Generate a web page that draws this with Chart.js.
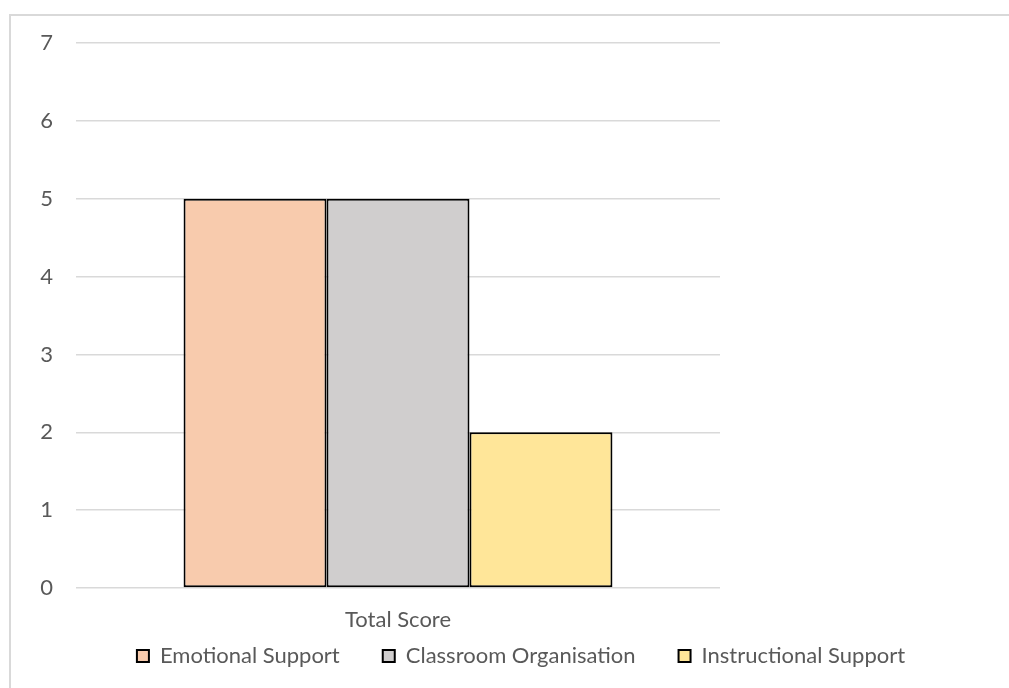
<!DOCTYPE html>
<html>
<head>
<meta charset="utf-8">
<script src="https://cdn.jsdelivr.net/npm/chart.js@4.4.1/dist/chart.umd.min.js"></script>
<style>
  html, body { margin: 0; padding: 0; background: #fff; overflow: hidden; }
  #frame {
    position: absolute; left: 9px; top: 14px; width: 1024px; height: 700px;
    border: 2px solid #d9d9d9; box-sizing: border-box;
  }
  #wrap { position: absolute; left: 9px; top: 14px; width: 1024px; height: 700px; }
</style>
</head>
<body>
<div id="frame"></div>
<div id="wrap"><canvas id="scoreChart"></canvas></div>
<script>
// chart data
const categories = ['Total Score'];
const seriesNames = ['Emotional Support', 'Classroom Organisation', 'Instructional Support'];
const emotionalSupport = [5];
const classroomOrganisation = [5];
const instructionalSupport = [2];
const yTicks = [0, 1, 2, 3, 4, 5, 6, 7];

const fillColours = ['#f8cbad', '#d0cece', '#ffe699'];
const textColour = '#595959';
const fontFamily = 'Lato, "Liberation Sans", sans-serif';

// legend padding also sets the gap between items, so pull the legend
// up a little after layout to sit closer under the axis label
const legendLift = {
    id: 'legendLift',
    afterLayout: function (chart) {
        chart.legend.top -= 32;
        chart.legend.bottom -= 32;
    }
};

document.addEventListener('DOMContentLoaded', function () {
    const ctx = document.getElementById('scoreChart').getContext('2d');
    const values = [emotionalSupport, classroomOrganisation, instructionalSupport];

    new Chart(ctx, {
        type: 'bar',
        data: {
            labels: categories,
            datasets: seriesNames.map(function (name, i) {
                return {
                    label: name,
                    data: values[i],
                    backgroundColor: fillColours[i],
                    borderColor: '#000000',
                    borderWidth: 2,
                    borderSkipped: false,
                    barPercentage: 1,
                    categoryPercentage: 0.666
                };
            })
        },
        plugins: [legendLift],
        options: {
            responsive: true,
            maintainAspectRatio: false,
            animation: false,
            layout: { padding: { left: 0, right: 0, top: 29, bottom: 5 } },
            plugins: {
                tooltip: { enabled: false },
                legend: {
                    position: 'bottom',
                    labels: {
                        boxWidth: 12,
                        boxHeight: 12,
                        padding: 43,
                        color: textColour,
                        font: { family: fontFamily, size: 22 }
                    }
                }
            },
            scales: {
                x: {
                    grid: { display: false },
                    border: { display: false },
                    ticks: {
                        color: textColour,
                        padding: 11,
                        font: { family: fontFamily, size: 22 }
                    },
                    afterFit: function (scale) { scale.height = 46; }
                },
                y: {
                    min: yTicks[0],
                    max: yTicks[yTicks.length - 1],
                    afterBuildTicks: function (scale) {
                        scale.ticks = yTicks.map(function (v) { return { value: v }; });
                    },
                    grid: { color: '#d9d9d9', lineWidth: 1.5, drawTicks: false },
                    border: { display: false },
                    ticks: {
                        color: textColour,
                        padding: 23,
                        font: { family: fontFamily, size: 22 }
                    },
                    afterFit: function (scale) {
                        scale.width = 67;
                        scale.paddingTop = 0;
                        scale.paddingBottom = 0;
                    }
                },
                // empty right axis keeps the plot narrow while the legend spans the frame
                spacer: {
                    type: 'linear',
                    position: 'right',
                    display: true,
                    grid: { display: false },
                    border: { display: false },
                    ticks: { display: false },
                    afterFit: function (scale) { scale.width = 313; }
                }
            }
        }
    });
});
</script>
</body>
</html>
